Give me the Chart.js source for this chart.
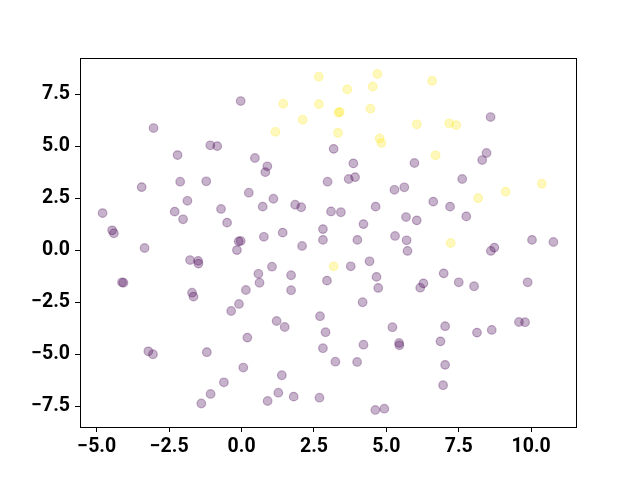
<!DOCTYPE html>
<html>
<head>
<meta charset="utf-8">
<script src="https://cdn.jsdelivr.net/npm/chart.js@4/dist/chart.umd.min.js"></script>
<style>
html,body{margin:0;padding:0;background:#fff;}
#wrap{width:640px;height:480px;}
</style>
</head>
<body>
<div id="wrap"><canvas id="c" width="640" height="480"></canvas></div>
<script>
// class 0 (purple) points
const purpleX = [-0.03,-3.04,-1.08,-0.84,-2.21,-2.12,-1.22,-3.45,3.18,0.46,0.89,0.82,3.86,2.97,3.70,3.92,5.97,5.62,5.28,
  8.60,8.46,8.31,7.62,0.25,-1.87,-4.80,-2.31,-2.02,-0.71,-0.50,-4.47,-4.41,-0.10,-0.03,-0.16,-3.35,-1.78,-1.50,-1.49,
  -4.13,-4.08,-1.71,-1.66,0.15,-0.09,-0.36,1.10,0.73,1.85,2.06,3.09,3.43,4.63,5.68,6.05,4.21,2.81,2.81,4.00,1.42,0.77,
  2.09,5.30,5.70,5.73,3.77,4.42,1.05,0.58,0.62,1.71,1.71,2.95,4.66,4.72,4.18,6.62,7.20,7.76,8.73,8.61,10.03,10.77,6.98,
  6.28,6.17,7.50,8.03,9.88,0.20,-3.22,-3.06,-1.20,0.06,-0.61,-1.07,-1.39,1.21,1.49,2.71,2.90,2.81,4.21,3.24,3.99,5.21,
  5.44,5.45,1.39,1.27,0.90,1.80,2.69,4.62,4.93,7.03,6.87,7.03,6.96,8.13,8.64,9.58,9.79];
const purpleY = [7.18,5.88,5.05,5.01,4.58,3.30,3.32,3.04,4.88,4.44,4.04,3.76,4.18,3.30,3.43,3.52,4.20,3.03,2.91,
  6.41,4.68,4.34,3.43,2.77,2.38,1.79,1.86,1.49,1.99,1.33,0.96,0.82,0.43,0.45,0.01,0.11,-0.47,-0.51,-0.64,
  -1.54,-1.56,-2.04,-2.23,-1.91,-2.58,-2.92,2.48,2.10,2.19,2.07,1.87,1.83,2.10,1.60,1.44,1.26,1.02,0.50,0.50,0.85,0.65,
  0.21,0.69,0.48,-0.03,-0.77,-0.53,-0.79,-1.13,-1.56,-1.20,-1.92,-1.46,-1.28,-1.81,-2.50,2.34,2.10,1.63,0.13,-0.03,0.50,0.40,-1.11,
  -1.59,-1.80,-1.54,-1.73,-1.54,-4.20,-4.86,-5.00,-4.90,-5.64,-6.35,-6.91,-7.37,-3.40,-3.69,-3.17,-3.94,-4.71,-4.54,-5.36,-5.37,-3.70,
  -4.46,-4.57,-6.01,-6.85,-7.25,-7.04,-7.09,-7.68,-7.62,-3.65,-4.38,-5.51,-6.49,-3.96,-3.83,-3.45,-3.46];
// class 1 (yellow) points
const yellowX = [2.67,4.69,3.65,4.53,1.44,2.67,3.35,3.39,4.45,2.11,1.17,3.33,4.77,4.83,6.05,6.58,7.17,7.41,6.70,10.37,8.17,9.12,7.22,3.18];
const yellowY = [8.35,8.48,7.74,7.88,7.05,7.03,6.62,6.66,6.81,6.28,5.70,5.65,5.38,5.16,6.06,8.15,6.11,6.02,4.57,3.20,2.51,2.82,0.35,-0.77];
const xTicks = [-5, -2.5, 0, 2.5, 5, 7.5, 10];
const yTicks = [-7.5, -5, -2.5, 0, 2.5, 5, 7.5];

const toPts = (xs, ys) => xs.map((x, i) => ({x: x, y: ys[i]}));
const fmt = v => (v < 0 ? '\u2212' : '') + Math.abs(v).toFixed(1);

const framePlugin = {
  id: 'frame',
  afterDraw(chart) {
    const a = chart.chartArea, ctx = chart.ctx;
    ctx.save();
    ctx.strokeStyle = '#000';
    ctx.lineWidth = 1;
    ctx.strokeRect(Math.round(a.left) + 0.5, Math.round(a.top) + 0.5, Math.round(a.right - a.left), Math.round(a.bottom - a.top));
    ctx.restore();
  }
};

new Chart(document.getElementById('c'), {
  type: 'scatter',
  data: {
    datasets: [
      {data: toPts(purpleX, purpleY), backgroundColor: 'rgba(68,1,84,0.3)', borderColor: 'rgba(68,1,84,0.3)', borderWidth: 1.2, pointRadius: 4.3, pointHoverRadius: 4.3},
      {data: toPts(yellowX, yellowY), backgroundColor: 'rgba(253,231,37,0.3)', borderColor: 'rgba(253,231,37,0.3)', borderWidth: 1.2, pointRadius: 4.3, pointHoverRadius: 4.3}
    ]
  },
  options: {
    responsive: false,
    animation: false,
    layout: {padding: {left: 0, top: 58, right: 64, bottom: 0}},
    plugins: {legend: {display: false}, tooltip: {enabled: false}},
    scales: {
      x: {
        type: 'linear', min: -5.58, max: 11.55,
        afterBuildTicks: s => { s.ticks = xTicks.map(v => ({value: v})); },
        afterFit: s => { s.height = 53; },
        grid: {drawOnChartArea: false, drawTicks: true, tickLength: 5, color: '#000'},
        border: {display: false},
        ticks: {color: '#000', padding: 3, maxRotation: 0, autoSkip: false, font: {family: 'Roboto', weight: 'bold', size: 19.5}, callback: v => fmt(v)}
      },
      y: {
        type: 'linear', min: -8.5, max: 9.25,
        afterBuildTicks: s => { s.ticks = yTicks.map(v => ({value: v})); },
        afterFit: s => { s.width = 80; },
        grid: {drawOnChartArea: false, drawTicks: true, tickLength: 5, color: '#000'},
        border: {display: false},
        ticks: {color: '#000', padding: 5, autoSkip: false, font: {family: 'Roboto', weight: 'bold', size: 19.5}, callback: v => fmt(v)}
      }
    }
  },
  plugins: [framePlugin]
});
</script>
</body>
</html>
